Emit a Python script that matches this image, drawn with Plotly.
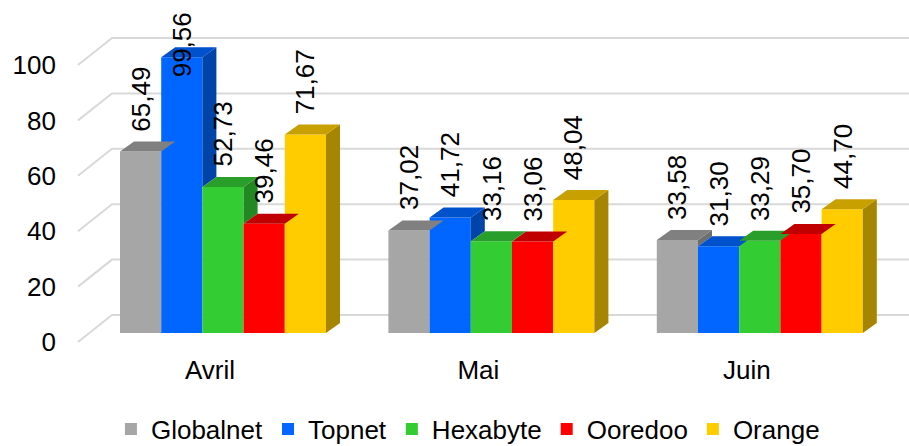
import plotly.graph_objects as go

# ---- data ----
categories = ["Avril", "Mai", "Juin"]
series_names = ["Globalnet", "Topnet", "Hexabyte", "Ooredoo", "Orange"]
globalnet = [65.49, 37.02, 33.58]
topnet = [99.56, 41.72, 31.30]
hexabyte = [52.73, 33.16, 33.29]
ooredoo = [39.46, 33.06, 35.70]
orange = [71.67, 48.04, 44.70]
y_ticks = [0, 20, 40, 60, 80, 100]
y_tick_labels = ["0", "20", "40", "60", "80", "100"]

series_values = [globalnet, topnet, hexabyte, ooredoo, orange]

# ---- styles ----
front_colors = ["#A6A6A6", "#0066FF", "#33CC33", "#FF0000", "#FFCC00"]
top_colors = ["#808080", "#0052CC", "#2A9E2A", "#C00000", "#C8A000"]
side_colors = ["#6E6E6E", "#0044AA", "#228822", "#A00000", "#A68500"]
FONT = "Liberation Sans, Arial, sans-serif"
FS = 26

# ---- pixel geometry of the 3D look ----
W, H = 909, 446
plot_left, plot_right, plot_top, plot_bottom = 60, 909, 20, 352
cat0_px, px_per_cat = 223.0, 268.4
zero_px, px_per_unit = 333.0, 2.77
bar_w = 0.1535                     # in category units
group_w = bar_w * len(series_names)
depth_dx = 14 / px_per_cat         # category units
depth_dy = 10 / px_per_unit        # value units

xr = [(plot_left - cat0_px) / px_per_cat, (plot_right - cat0_px) / px_per_cat]
yr = [(zero_px - plot_bottom) / px_per_unit, (zero_px - plot_top) / px_per_unit]

xpos = list(range(len(categories)))

fig = go.Figure()

# front faces (real bars)
for s, (name, vals) in enumerate(zip(series_names, series_values)):
    fig.add_trace(go.Bar(
        x=xpos, y=vals, name=name,
        width=bar_w, offset=-group_w / 2 + s * bar_w,
        marker=dict(color=front_colors[s], line=dict(width=0)),
        hovertemplate=name + ": %{y:.2f}<extra></extra>",
    ))

# side faces (only visible part above the next bar)
for s, vals in enumerate(series_values):
    xs, ys = [], []
    for c in xpos:
        v = vals[c]
        x1 = c - group_w / 2 + (s + 1) * bar_w
        lo = 0.0
        if s + 1 < len(series_values):
            lo = series_values[s + 1][c]
        if lo >= v:
            continue
        xs += [x1, x1, x1 + depth_dx, x1 + depth_dx, x1, None]
        ys += [lo, v, v + depth_dy, lo + depth_dy, lo, None]
    if xs:
        fig.add_trace(go.Scatter(x=xs, y=ys, mode="lines", fill="toself",
                                 fillcolor=side_colors[s], line=dict(width=0, color=side_colors[s]),
                                 showlegend=False, hoverinfo="skip"))

# top faces
for s, vals in enumerate(series_values):
    xs, ys = [], []
    for c in xpos:
        v = vals[c]
        x0 = c - group_w / 2 + s * bar_w
        x1 = x0 + bar_w
        xs += [x0, x1, x1 + depth_dx, x0 + depth_dx, x0, None]
        ys += [v, v, v + depth_dy, v + depth_dy, v, None]
    fig.add_trace(go.Scatter(x=xs, y=ys, mode="lines", fill="toself",
                             fillcolor=top_colors[s], line=dict(width=0, color=top_colors[s]),
                             showlegend=False, hoverinfo="skip"))

# gridlines drawn on the back wall + floor diagonal
shapes = []
gx_front = (78 - cat0_px) / px_per_cat
gx_back = (112 - cat0_px) / px_per_cat
g_front_dy = 9 / px_per_unit
g_back_dy = 18 / px_per_unit
for t in y_ticks:
    path = "M {:.5f},{:.4f} L {:.5f},{:.4f} L {:.5f},{:.4f}".format(
        gx_front, t - g_front_dy, gx_back, t + g_back_dy, xr[1], t + g_back_dy)
    shapes.append(dict(type="path", path=path, xref="x", yref="y", layer="below",
                       line=dict(color="#D9D9D9", width=2)))

# data labels (rotated)
annotations = []
label_gap = 18
top_limit_px = 10
for s, vals in enumerate(series_values):
    for c in xpos:
        v = vals[c]
        txt = "{:.2f}".format(v).replace(".", ",")
        xc = c - group_w / 2 + (s + 0.5) * bar_w
        bottom_px = zero_px - v * px_per_unit - label_gap
        est_len = len(txt) * 0.5 * FS
        if bottom_px - est_len < top_limit_px:
            annotations.append(dict(x=xc, xref="x", yref="paper",
                                    y=(plot_bottom - top_limit_px) / (plot_bottom - plot_top),
                                    yanchor="top", xanchor="center", text=txt, textangle=-90,
                                    showarrow=False, font=dict(family=FONT, size=FS, color="#000")))
        else:
            annotations.append(dict(x=xc, y=v, xref="x", yref="y", yanchor="bottom",
                                    xanchor="center", yshift=label_gap, text=txt, textangle=-90,
                                    showarrow=False, font=dict(family=FONT, size=FS, color="#000")))

label_shift = -13 / px_per_cat
legend_center_px = 429

fig.update_layout(
    width=W, height=H, autosize=False,
    margin=dict(l=plot_left, r=W - plot_right, t=plot_top, b=H - plot_bottom, autoexpand=False),
    paper_bgcolor="white", plot_bgcolor="rgba(0,0,0,0)",
    barmode="overlay",
    font=dict(family=FONT, size=FS, color="#000"),
    xaxis=dict(range=xr, tickvals=[c + label_shift for c in xpos], ticktext=categories,
               showgrid=False, zeroline=False, showline=False, ticks="",
               tickfont=dict(size=FS), automargin=False, fixedrange=True),
    yaxis=dict(range=yr, tickvals=y_ticks, ticktext=y_tick_labels, showgrid=False,
               zeroline=False, showline=False, ticks="", tickfont=dict(size=FS),
               ticklabelshift=9, ticklabelstandoff=3, automargin=False, fixedrange=True),
    shapes=shapes,
    annotations=annotations,
    legend=dict(orientation="h", x=0.06, xanchor="left",
                y=(plot_bottom - legend_center_px) / (plot_bottom - plot_top), yanchor="middle",
                font=dict(size=FS), traceorder="normal", bgcolor="rgba(0,0,0,0)",
                borderwidth=0),
    showlegend=True,
)

fig.write_html("out.html", config={"displayModeBar": False},
               post_script="document.body.style.margin='0';document.body.style.padding='0';")
